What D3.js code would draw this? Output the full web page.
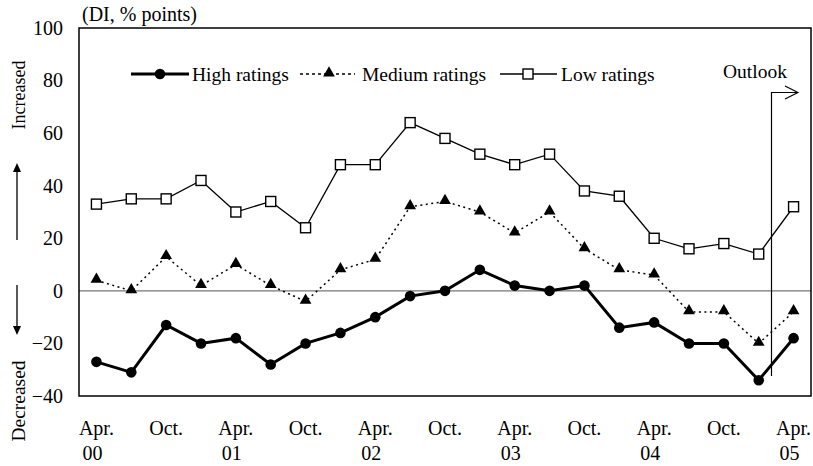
<!DOCTYPE html>
<html>
<head>
<meta charset="utf-8">
<script src="https://cdn.jsdelivr.net/npm/d3@7"></script>
<style>
  body { margin: 0; background: #fff; }
  svg { display: block; font-family: "Liberation Serif", "Times New Roman", serif; }
</style>
</head>
<body>
<svg id="chart" width="813" height="466"></svg>
<script>
// ---- Data ----
const periods = ["Apr.00","Jul.00","Oct.00","Jan.01","Apr.01","Jul.01","Oct.01","Jan.02","Apr.02","Jul.02","Oct.02","Jan.03","Apr.03","Jul.03","Oct.03","Jan.04","Apr.04","Jul.04","Oct.04","Jan.05","Apr.05"];
const monthLabels = ["Apr.","","Oct.","","Apr.","","Oct.","","Apr.","","Oct.","","Apr.","","Oct.","","Apr.","","Oct.","","Apr."];
const yearLabels  = ["00","","","","01","","","","02","","","","03","","","","04","","","","05"];
const highRatings   = [-27,-31,-13,-20,-18,-28,-20,-16,-10,-2,0,8,2,0,2,-14,-12,-20,-20,-34,-18];
const mediumRatings = [4,0,13,2,10,2,-4,8,12,32,34,30,22,30,16,8,6,-8,-8,-20,-8];
const lowRatings    = [33,35,35,42,30,34,24,48,48,64,58,52,48,52,38,36,20,16,18,14,32];
const yTicks = [-40,-20,0,20,40,60,80,100];
const seriesNames = ["High ratings","Medium ratings","Low ratings"];

(function () {
const svg = d3.select("#chart");
const pLeft = 79, pRight = 811, pTop = 28, pBottom = 396;

const x = d3.scaleBand().domain(periods).range([pLeft, pRight]).paddingInner(0).paddingOuter(0);
const cx = d => x(d) + x.bandwidth() / 2;
const y = d3.scaleLinear().domain([-40, 100]).range([pBottom, pTop]);

// zero line
svg.append("line")
  .attr("x1", pLeft).attr("x2", pRight)
  .attr("y1", y(0)).attr("y2", y(0))
  .attr("stroke", "#777").attr("stroke-width", 1.2);

// frame
svg.append("rect")
  .attr("x", pLeft).attr("y", pTop)
  .attr("width", pRight - pLeft).attr("height", pBottom - pTop)
  .attr("fill", "none").attr("stroke", "#000").attr("stroke-width", 1.5);

// Y axis labels
const yAxis = d3.axisLeft(y).tickValues(yTicks).tickSize(0).tickPadding(16).tickFormat(d3.format("d"));
const gy = svg.append("g").attr("transform", `translate(${pLeft},0)`).call(yAxis);
gy.select(".domain").remove();
gy.selectAll("text").attr("font-size", 20).attr("fill", "#000")
  .style("font-family", '"Liberation Serif", serif');

// X axis labels
const gx = svg.append("g");
gx.selectAll("text.m").data(periods).enter().append("text")
  .attr("class", "m")
  .attr("x", d => cx(d)).attr("y", 435)
  .attr("text-anchor", "middle").attr("font-size", 20)
  .text((d, i) => monthLabels[i]);
gx.selectAll("text.yr").data(periods).enter().append("text")
  .attr("class", "yr")
  .attr("x", d => cx(d) - 4).attr("y", 460)
  .attr("text-anchor", "middle").attr("font-size", 20)
  .text((d, i) => yearLabels[i]);

// title
svg.append("text").attr("x", 82).attr("y", 20.5).attr("font-size", 20).text("(DI, % points)");

// Increased / Decreased
svg.append("text").attr("transform", "translate(25,95) rotate(-90)")
  .attr("text-anchor", "middle").attr("font-size", 18).text("Increased");
svg.append("text").attr("transform", "translate(25,401) rotate(-90)")
  .attr("text-anchor", "middle").attr("font-size", 19.5).text("Decreased");

// arrows
svg.append("line").attr("x1", 17).attr("x2", 17).attr("y1", 240).attr("y2", 168).attr("stroke", "#000").attr("stroke-width", 1.3);
svg.append("path").attr("d", "M17,163 L13,172 L21,172 Z").attr("fill", "#000");
svg.append("line").attr("x1", 17).attr("x2", 17).attr("y1", 285).attr("y2", 330).attr("stroke", "#000").attr("stroke-width", 1.3);
svg.append("path").attr("d", "M17,335 L13,326 L21,326 Z").attr("fill", "#000");

// lines
const line = d3.line().x((d, i) => cx(periods[i])).y(d => y(d));

svg.append("path").datum(lowRatings).attr("d", line)
  .attr("fill", "none").attr("stroke", "#000").attr("stroke-width", 1.3);
svg.append("path").datum(mediumRatings).attr("d", line)
  .attr("fill", "none").attr("stroke", "#000").attr("stroke-width", 1.5).attr("stroke-dasharray", "2,3.5");
svg.append("path").datum(highRatings).attr("d", line)
  .attr("fill", "none").attr("stroke", "#000").attr("stroke-width", 3);

// Outlook annotation
const ox = 771.5;
svg.append("path").attr("d", `M${ox},376 L${ox},92.5 L798,92.5`)
  .attr("fill", "none").attr("stroke", "#000").attr("stroke-width", 1.2);
svg.append("path").attr("d", "M785,86 L798,92.5 L785,99")
  .attr("fill", "none").attr("stroke", "#000").attr("stroke-width", 1.2);
svg.append("text").attr("x", 723).attr("y", 78).attr("font-size", 19.5).text("Outlook");

// markers
const tri = d3.symbol().type(d3.symbolTriangle).size(60);
svg.selectAll("rect.low").data(lowRatings).enter().append("rect")
  .attr("class", "low")
  .attr("x", (d, i) => cx(periods[i]) - 5).attr("y", d => y(d) - 5)
  .attr("width", 10).attr("height", 10)
  .attr("fill", "#fff").attr("stroke", "#000").attr("stroke-width", 1.4);
svg.selectAll("path.med").data(mediumRatings).enter().append("path")
  .attr("class", "med")
  .attr("d", tri)
  .attr("transform", (d, i) => `translate(${cx(periods[i])},${y(d) - 1})`)
  .attr("fill", "#000");
svg.selectAll("circle.high").data(highRatings).enter().append("circle")
  .attr("class", "high")
  .attr("cx", (d, i) => cx(periods[i])).attr("cy", d => y(d))
  .attr("r", 5.3).attr("fill", "#000");

// legend
const ly = 74;
const leg = svg.append("g");
leg.append("line").attr("x1", 131).attr("x2", 189).attr("y1", ly).attr("y2", ly).attr("stroke", "#000").attr("stroke-width", 3);
leg.append("circle").attr("cx", 160).attr("cy", ly).attr("r", 5.3).attr("fill", "#000");
leg.append("text").attr("x", 192).attr("y", ly + 7).attr("font-size", 19.5).text(seriesNames[0]);
leg.append("line").attr("x1", 300).attr("x2", 355).attr("y1", ly).attr("y2", ly).attr("stroke", "#000").attr("stroke-width", 1.5).attr("stroke-dasharray", "3,3");
leg.append("path").attr("d", tri).attr("transform", `translate(329,${ly - 1})`).attr("fill", "#000");
leg.append("text").attr("x", 362).attr("y", ly + 7).attr("font-size", 19.5).text(seriesNames[1]);
leg.append("line").attr("x1", 500).attr("x2", 557).attr("y1", ly).attr("y2", ly).attr("stroke", "#000").attr("stroke-width", 1.3);
leg.append("rect").attr("x", 523).attr("y", ly - 5).attr("width", 10).attr("height", 10).attr("fill", "#fff").attr("stroke", "#000").attr("stroke-width", 1.4);
leg.append("text").attr("x", 561).attr("y", ly + 7).attr("font-size", 19.5).text(seriesNames[2]);
})();
</script>
</body>
</html>
